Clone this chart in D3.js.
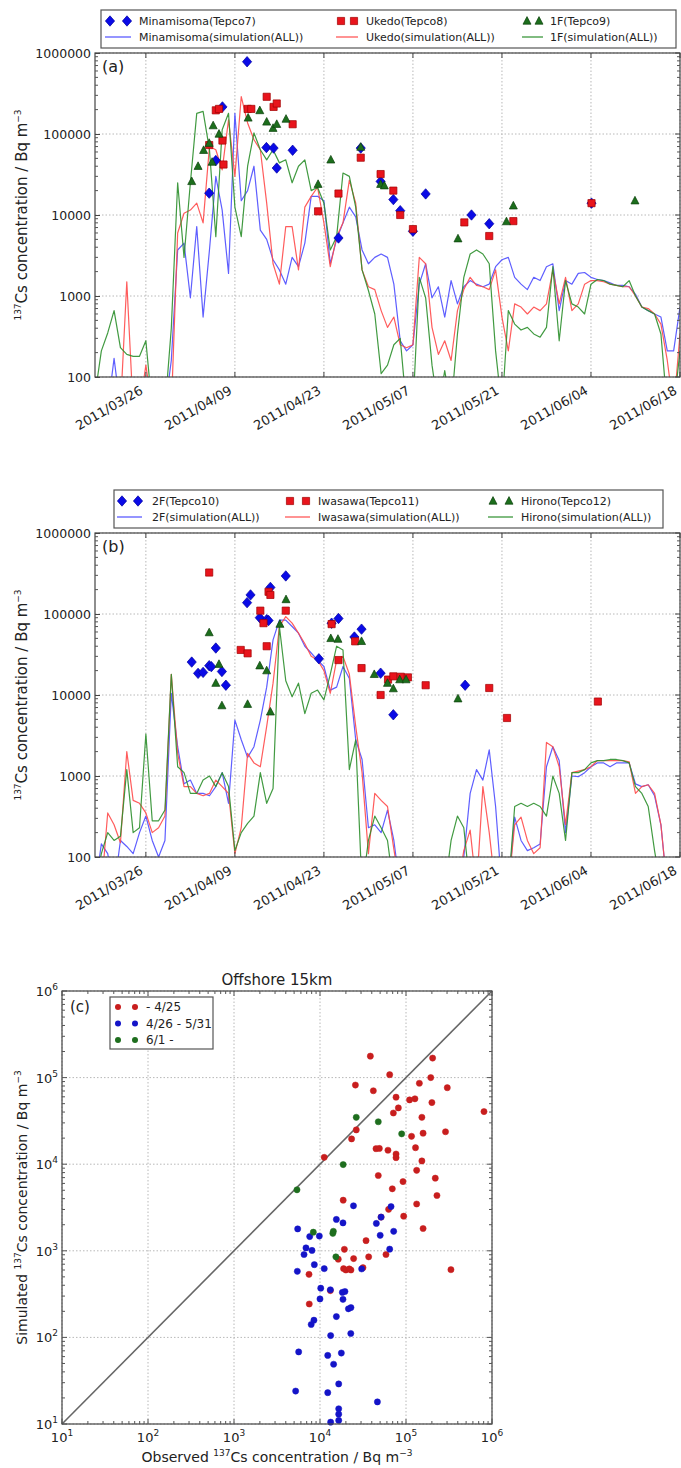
<!DOCTYPE html>
<html>
<head>
<meta charset="utf-8">
<script src="https://cdn.jsdelivr.net/npm/d3@7"></script>
<style>
  body { margin: 0; background: #fff; }
  svg { display: block; }
  text { font-family: "DejaVu Sans", sans-serif; fill: #222; }
</style>
</head>
<body>
<div id="chart"></div>
<script>
// ---- data ----
const simStart = "2011-03-18";          // first value of every simulation array, one value per day
const dateTicks = ["2011-03-26", "2011-04-09", "2011-04-23", "2011-05-07", "2011-05-21", "2011-06-04", "2011-06-18"];
const concTicks = [100, 1000, 10000, 100000, 1000000];
const logTicks = [10, 100, 1000, 10000, 100000, 1000000];

// panel (a)
const minamisomaSim = [40,40,40,170,40,40,40,40,40,40,
  40,40,160,3700,4500,950,7200,550,3700,30000,
  11500,1900,180000,15000,20000,40000,6500,5000,2800,2100,
  1400,3000,2300,4500,17000,17000,15000,2500,5000,8000,
  12500,9500,3700,2500,3000,3300,3000,1400,280,210,
  250,1400,2500,950,1300,550,1550,800,1300,1550,
  1400,1300,1400,2300,2800,3000,1700,1400,1200,1700,
  1550,2300,2500,660,1550,1400,1900,1950,1700,1600,
  1550,1450,1350,1350,1300,1050,730,660,600,550,
  210,210,730];
const ukedoSim = [40,40,40,40,40,1500,40,40,140,40,
  40,40,40,6000,10500,11500,14000,8000,70000,64000,
  36000,150000,30000,290000,137000,85000,64000,14000,2500,1400,
  7200,7200,2100,12500,17000,22000,8000,2300,5400,8000,
  27000,14000,2100,1300,1200,660,410,550,250,230,
  250,3000,2500,410,190,280,160,660,1200,1700,
  1350,1300,1200,2100,550,210,800,730,600,730,
  660,800,2100,800,1700,660,800,1400,1550,1550,
  1500,1400,1350,1300,1300,1000,730,700,600,450,
  160,40,340];
const f1Sim = [60,210,350,660,230,190,180,180,280,40,
  40,40,400,25000,3000,25000,180000,190000,64000,5400,
  113000,180000,12500,5400,40000,103000,64000,48000,64000,44000,
  48000,25000,40000,48000,20000,22000,14000,3700,5400,33000,
  30000,12500,2100,1170,600,110,140,250,300,40,
  40,1700,950,140,40,120,40,340,1700,3300,
  3700,3300,2500,210,40,660,450,380,410,340,
  310,410,2300,280,1550,800,730,600,1400,1600,
  1550,1400,1350,1300,1550,1000,730,660,600,340,
  40,40,210];

const minamisomaObsDates = ["2011-04-04 23","2011-04-06 00","2011-04-07 01","2011-04-10 22","2011-04-13 23","2011-04-15 02",
  "2011-04-15 14","2011-04-18 02","2011-04-25 07","2011-04-28 19","2011-05-01 22","2011-05-03 22",
  "2011-05-05 00","2011-05-07 00","2011-05-09 00","2011-05-16 05","2011-05-19 00","2011-06-04 02"];
const minamisomaObs = [18600,47000,216000,780000,68000,67000,38000,63000,5200,67000,26000,15500,11300,6300,18200,10000,7800,14000];

const ukedoObsDates = ["2011-04-04 23","2011-04-06 00","2011-04-06 12","2011-04-07 01","2011-04-07 05","2011-04-11 00",
  "2011-04-11 14","2011-04-14 00","2011-04-15 02","2011-04-15 14","2011-04-18 02","2011-04-22 02",
  "2011-04-25 07","2011-04-28 19","2011-05-01 22","2011-05-03 22","2011-05-05 00","2011-05-07 00",
  "2011-05-15 02","2011-05-19 00","2011-05-22 19","2011-06-04 02"];
const ukedoObs = [73000,196000,204000,83000,42000,204000,204000,288000,216000,238000,132000,11100,
  18400,51000,32000,20000,10000,6700,8100,5500,8400,14000];

const f1ObsDates = ["2011-04-02 05","2011-04-03 05","2011-04-04 02","2011-04-04 23","2011-04-05 10","2011-04-05 14",
  "2011-04-06 12","2011-04-11 02","2011-04-12 22","2011-04-14 00","2011-04-15 00","2011-04-15 14",
  "2011-04-17 01","2011-04-22 02","2011-04-24 02","2011-04-28 19","2011-05-01 22","2011-05-02 12",
  "2011-05-14 02","2011-05-21 17","2011-05-22 19","2011-06-10 22"];
const f1Obs = [26000,40000,63000,77000,45000,127000,100000,158000,195000,141000,118000,132000,
  153000,24000,48000,69000,24000,23000,5100,8300,13000,15000];

// panel (b)
const f2Sim = [40,145,110,40,160,135,110,200,320,160,
  100,160,10500,2300,800,890,610,610,570,740,
  1100,460,4900,2800,1700,2300,4900,12500,48000,84000,
  84000,70000,58000,40000,33000,27000,22500,11500,12500,22500,
  16000,2800,1600,230,250,200,380,160,40,40,
  40,40,40,40,40,40,40,40,100,610,
  1200,890,2100,420,40,40,310,160,120,130,
  145,1300,2300,1550,200,1000,980,1100,1300,1450,
  1450,1300,1450,1450,1450,800,740,780,570,250,
  40,40,40];
const iwasawaSim = [40,40,350,250,150,2000,500,460,350,200,
  230,320,18000,1900,740,740,610,570,610,890,
  740,610,110,230,1900,1450,1300,4100,14000,70000,
  93000,77000,58000,43000,30000,27000,20000,10500,27000,30000,
  18000,4100,1100,110,610,500,420,125,40,40,
  40,40,40,40,40,40,40,40,120,215,
  40,740,200,40,40,40,250,310,160,110,
  130,2600,2300,1300,250,1100,1150,1200,1300,1550,
  1550,1550,1550,1550,1500,610,740,780,610,250,
  40,40,40];
const hironoSim = [40,110,200,160,180,1200,200,230,3300,280,
  280,380,18000,1300,1100,610,610,890,1000,740,
  1100,740,120,200,260,320,1100,460,700,70000,
  15000,9500,14000,5900,10500,11500,8700,18000,40000,36000,
  1200,2800,40,160,320,230,160,40,40,40,
  40,40,40,40,40,40,160,320,230,40,
  40,40,40,40,40,40,420,460,420,460,
  420,320,1000,610,160,1100,1100,1200,1450,1550,
  1550,1600,1600,1550,1450,740,610,420,120,40,
  40,40,40];

const f2ObsDates = ["2011-04-02 05","2011-04-03 05","2011-04-04 00","2011-04-04 23","2011-04-05 07","2011-04-06 00",
  "2011-04-06 23","2011-04-07 14","2011-04-10 22","2011-04-11 11","2011-04-12 22","2011-04-14 00",
  "2011-04-14 07","2011-04-14 14","2011-04-17 00","2011-04-22 05","2011-04-24 05","2011-04-25 07",
  "2011-04-27 19","2011-04-28 22","2011-05-01 22","2011-05-03 22","2011-05-15 05"];
const f2Obs = [25500,18500,19000,23000,22400,38000,19500,13200,138000,172000,90000,85000,
  83000,213000,295000,28000,77000,88000,52000,65000,18600,5700,13200];

const iwasawaObsDates = ["2011-04-04 23","2011-04-09 22","2011-04-11 00","2011-04-13 00","2011-04-13 12","2011-04-14 00",
  "2011-04-14 07","2011-04-14 14","2011-04-17 00","2011-04-24 05","2011-04-25 07","2011-04-27 22",
  "2011-04-28 22","2011-05-01 22","2011-05-03 02","2011-05-03 22","2011-05-05 02","2011-05-06 05",
  "2011-05-09 00","2011-05-19 00","2011-05-21 19","2011-06-05 02"];
const iwasawaObs = [325000,36000,32700,110000,77000,40000,188000,172000,110000,75000,27000,46000,
  21500,10000,15500,17000,16800,16500,13200,12200,5200,8300];

const hironoObsDates = ["2011-04-04 23","2011-04-06 00","2011-04-06 12","2011-04-06 23","2011-04-11 00","2011-04-12 22",
  "2011-04-14 00","2011-04-14 14","2011-04-16 02","2011-04-17 01","2011-04-24 02","2011-04-25 05",
  "2011-04-28 22","2011-04-30 22","2011-05-03 00","2011-05-03 22","2011-05-04 22","2011-05-05 22","2011-05-14 02"];
const hironoObs = [59000,14000,24000,7400,7700,23000,20000,6200,75000,151000,50000,49000,
  46000,18000,14000,12000,15500,15500,9000];

// panel (c): observed vs simulated
const earlyObs = [38500,204000,64600,194000,25800,143000,302000,41700,76600,110000,127000,200000,81500,71300,153000,807000,
  26400,23300,116000,158000,288000,44800,49000,61700,76600,76600,129000,153000,11200,133000,47600,92300,219000,69300,229000,
  18600,133000,62800,51300,94000,158000,34300,19200,58500,16300,24600,36800,7450,18800,20000,21900,22900,31600,333000,13200,7500];
const earlySim = [177000,168000,108000,100000,82000,86000,76400,70500,59400,55300,56900,51500,44700,39000,34800,40500,
  24900,19600,21000,22800,23700,15100,15200,14500,13100,11900,15500,10900,12000,8500,7400,6300,6900,5200,4350,
  3840,3470,3010,2450,2510,1810,1310,1040,906,800,813,851,535,622,600,617,600,638,605,347,243];
const midObs = [24500,67000,51300,15500,18500,45200,5500,7590,9820,50100,71900,6870,8070,6520,64600,8590,5450,11200,30500,
  10200,13200,18200,19500,10000,18500,21400,22900,15500,8500,7900,13300,22800,5650,12300,17700,14400,16500,5210,12300,
  46500,16500,16500,16500,13300];
const midSim = [3310,3240,2450,2300,2100,2070,1790,1460,1480,1510,1680,1080,1010,906,1045,692,580,622,617,
  370,355,331,339,278,275,214,221,174,158,141,105,111,68,62,66,49,29,24,23,
  18,15,13,11,10.5];
const lateObs = [26400,47600,89100,18600,5400,8360,14300,14100,15300];
const lateSim = [34800,30900,22400,9900,5060,1640,1680,1590,851];

// ---- drawing ----
const W = 681, H = 1468;
const svg = d3.select("#chart").append("svg").attr("width", W).attr("height", H);
const parseDay = d3.timeParse("%Y-%m-%d");
const parseObs = d3.timeParse("%Y-%m-%d %H");
const GRID = "#b8b8b8";

const diamond = "M0,-5.2L4.6,0L0,5.2L-4.6,0Z";
const square = "M-3.6,-3.6H3.6V3.6H-3.6Z";
const triangle = "M0,-4.4L4,3.2H-4Z";

const BLUE = "#0a0ae6", RED = "#e8141c", GREEN = "#1c6e1c";
const BLUE_L = "#4d4dff", RED_L = "#ff4a4a", GREEN_L = "#2c8f2c";

function superLabel(g, x, y, rotate, parts, anchor) {
  // parts: [text, isSuper, size]
  const t = g.append("text")
    .attr("transform", `translate(${x},${y})` + (rotate ? " rotate(-90)" : ""))
    .attr("text-anchor", anchor || "middle");
  let up = false;
  parts.forEach(([s, sup, size]) => {
    const ts = t.append("tspan").text(s).style("font-size", size + "px");
    if (sup && !up) { ts.attr("dy", -6); up = true; }
    else if (!sup && up) { ts.attr("dy", 6); up = false; }
  });
  return t;
}

function markerPath(sel, d, fill, stroke) {
  return sel.append("path").attr("d", d).attr("fill", fill)
    .attr("stroke", stroke).attr("stroke-width", 0.7);
}

function timePanel(cfg) {
  const x = d3.scaleTime().domain([parseDay("2011-03-18"), parseDay("2011-06-18")]).range([95, 680]);
  const y = d3.scaleLog().domain([100, 1e6]).range([cfg.bottom, cfg.top]);
  const g = svg.append("g");
  const clipId = "clip" + cfg.name;
  svg.append("clipPath").attr("id", clipId).append("rect")
    .attr("x", 95).attr("y", cfg.top).attr("width", 585).attr("height", cfg.bottom - cfg.top);

  const ticks = dateTicks.map(parseDay);

  // grid
  g.append("g").selectAll("line").data(ticks).join("line")
    .attr("x1", d => x(d)).attr("x2", d => x(d)).attr("y1", cfg.top).attr("y2", cfg.bottom)
    .attr("stroke", GRID).attr("stroke-dasharray", "1.5,2");
  g.append("g").selectAll("line").data(concTicks).join("line")
    .attr("x1", 95).attr("x2", 680).attr("y1", d => y(d)).attr("y2", d => y(d))
    .attr("stroke", GRID).attr("stroke-dasharray", "1.5,2");

  // simulation lines
  const line = d3.line().x((d, i) => x(d3.timeDay.offset(parseDay(simStart), i))).y(d => y(d));
  const lines = g.append("g").attr("clip-path", `url(#${clipId})`);
  cfg.sims.forEach(s => {
    lines.append("path").datum(s.values).attr("d", line)
      .attr("fill", "none").attr("stroke", s.color).attr("stroke-width", 1.2)
      .attr("stroke-opacity", 0.9).attr("stroke-linejoin", "round");
  });

  // observations
  const marks = g.append("g").attr("clip-path", `url(#${clipId})`);
  cfg.obs.forEach(o => {
    marks.append("g").selectAll("path").data(o.values).join("path")
      .attr("transform", (d, i) => `translate(${x(parseObs(o.dates[i]))},${y(d)})`)
      .attr("d", o.shape).attr("fill", o.fill).attr("stroke", o.stroke).attr("stroke-width", 0.7);
  });

  // frame
  g.append("rect").attr("x", 95).attr("y", cfg.top).attr("width", 585).attr("height", cfg.bottom - cfg.top)
    .attr("fill", "none").attr("stroke", "#444").attr("stroke-width", 1.2);

  // y axis with inward ticks
  const yAxis = d3.axisLeft(y).tickValues(concTicks).tickFormat(d3.format("d"))
    .tickSizeInner(-5).tickSizeOuter(0).tickPadding(4);
  const ya = g.append("g").attr("transform", "translate(95,0)").call(yAxis);
  ya.select(".domain").remove();
  ya.selectAll("text").style("font-size", "12.5px").attr("fill", "#222");
  ya.selectAll("line").attr("stroke", "#444");
  // minor ticks both sides
  const minors = [];
  for (let e = 100; e < 1e6; e *= 10) for (let k = 2; k <= 9; k++) minors.push(e * k);
  g.append("g").selectAll("line").data(minors).join("line")
    .attr("x1", 95).attr("x2", 98).attr("y1", d => y(d)).attr("y2", d => y(d)).attr("stroke", "#555");
  g.append("g").selectAll("line").data(minors).join("line")
    .attr("x1", 677).attr("x2", 680).attr("y1", d => y(d)).attr("y2", d => y(d)).attr("stroke", "#555");
  g.append("g").selectAll("line").data(concTicks).join("line")
    .attr("x1", 675).attr("x2", 680).attr("y1", d => y(d)).attr("y2", d => y(d)).attr("stroke", "#444");

  // x ticks and rotated labels
  g.append("g").selectAll("line").data(ticks).join("line")
    .attr("x1", d => x(d)).attr("x2", d => x(d)).attr("y1", cfg.bottom).attr("y2", cfg.bottom - 5).attr("stroke", "#444");
  g.append("g").selectAll("line").data(ticks).join("line")
    .attr("x1", d => x(d)).attr("x2", d => x(d)).attr("y1", cfg.top).attr("y2", cfg.top + 5).attr("stroke", "#444");
  g.append("g").selectAll("text").data(ticks).join("text")
    .attr("transform", d => `translate(${x(d) - 2},${cfg.bottom + 16}) rotate(-30)`)
    .attr("text-anchor", "end").style("font-size", "13px")
    .text(d3.timeFormat("%Y/%m/%d"));

  // panel letter
  g.append("text").attr("x", 102).attr("y", cfg.top + 19).style("font-size", "16px").text(cfg.letter);

  // y label
  superLabel(g, 27, (cfg.top + cfg.bottom) / 2, true,
    [["137", true, 9], ["Cs concentration / Bq m", false, 15], ["\u22123", true, 9]]);

  // legend
  const L = cfg.legend;
  const lg = g.append("g");
  lg.append("rect").attr("x", L.x0).attr("y", L.y0).attr("width", L.x1 - L.x0).attr("height", L.y1 - L.y0)
    .attr("fill", "#fff").attr("stroke", "#555").attr("stroke-width", 1.2);
  L.cols.forEach((c, i) => {
    const o = cfg.obs[i], s = cfg.sims[i];
    [c.m1, c.m2].forEach(mx => {
      markerPath(lg, o.shape, o.fill, o.stroke).attr("transform", `translate(${mx},${L.row1})`);
    });
    lg.append("text").attr("x", c.tx).attr("y", L.row1 + 4).style("font-size", "11px").text(o.label);
    lg.append("line").attr("x1", c.m1 - 5).attr("x2", c.m2 + 4).attr("y1", L.row2).attr("y2", L.row2)
      .attr("stroke", s.color).attr("stroke-width", 1.2);
    lg.append("text").attr("x", c.tx).attr("y", L.row2 + 4).style("font-size", "11px").text(s.label);
  });
}

timePanel({
  name: "a", letter: "(a)", top: 53, bottom: 377,
  sims: [
    { values: minamisomaSim, color: BLUE_L, label: "Minamisoma(simulation(ALL))" },
    { values: ukedoSim, color: RED_L, label: "Ukedo(simulation(ALL))" },
    { values: f1Sim, color: GREEN_L, label: "1F(simulation(ALL))" }
  ],
  obs: [
    { dates: minamisomaObsDates, values: minamisomaObs, shape: diamond, fill: BLUE, stroke: "#0000a0", label: "Minamisoma(Tepco7)" },
    { dates: ukedoObsDates, values: ukedoObs, shape: square, fill: RED, stroke: "#a00000", label: "Ukedo(Tepco8)" },
    { dates: f1ObsDates, values: f1Obs, shape: triangle, fill: GREEN, stroke: "#0c400c", label: "1F(Tepco9)" }
  ],
  legend: { x0: 101, x1: 676, y0: 10, y1: 48, row1: 21, row2: 37,
    cols: [{ m1: 110, m2: 127, tx: 139 }, { m1: 341, m2: 354, tx: 366 }, { m1: 527, m2: 539, tx: 550 }] }
});

timePanel({
  name: "b", letter: "(b)", top: 533, bottom: 857,
  sims: [
    { values: f2Sim, color: BLUE_L, label: "2F(simulation(ALL))" },
    { values: iwasawaSim, color: RED_L, label: "Iwasawa(simulation(ALL))" },
    { values: hironoSim, color: GREEN_L, label: "Hirono(simulation(ALL))" }
  ],
  obs: [
    { dates: f2ObsDates, values: f2Obs, shape: diamond, fill: BLUE, stroke: "#0000a0", label: "2F(Tepco10)" },
    { dates: iwasawaObsDates, values: iwasawaObs, shape: square, fill: RED, stroke: "#a00000", label: "Iwasawa(Tepco11)" },
    { dates: hironoObsDates, values: hironoObs, shape: triangle, fill: GREEN, stroke: "#0c400c", label: "Hirono(Tepco12)" }
  ],
  legend: { x0: 114, x1: 663, y0: 490, y1: 528, row1: 501, row2: 517,
    cols: [{ m1: 122, m2: 138, tx: 152 }, { m1: 290, m2: 306, tx: 318 }, { m1: 493, m2: 509, tx: 521 }] }
});

// ---- panel (c) ----
(function () {
  const X0 = 62, X1 = 492, Y0 = 991, Y1 = 1424;
  const x = d3.scaleLog().domain([10, 1e6]).range([X0, X1]);
  const y = d3.scaleLog().domain([10, 1e6]).range([Y1, Y0]);
  const g = svg.append("g");

  g.append("g").selectAll("line").data(logTicks).join("line")
    .attr("x1", d => x(d)).attr("x2", d => x(d)).attr("y1", Y0).attr("y2", Y1)
    .attr("stroke", GRID).attr("stroke-dasharray", "1.5,2");
  g.append("g").selectAll("line").data(logTicks).join("line")
    .attr("x1", X0).attr("x2", X1).attr("y1", d => y(d)).attr("y2", d => y(d))
    .attr("stroke", GRID).attr("stroke-dasharray", "1.5,2");

  // 1:1 line
  g.append("line").attr("x1", x(10)).attr("y1", y(10)).attr("x2", x(1e6)).attr("y2", y(1e6))
    .attr("stroke", "#666").attr("stroke-width", 1.6);

  const groups = [
    { obs: earlyObs, sim: earlySim, color: "#c81e1e", label: " - 4/25" },
    { obs: midObs, sim: midSim, color: "#1414c8", label: "4/26 - 5/31" },
    { obs: lateObs, sim: lateSim, color: "#1e6e1e", label: "6/1 -" }
  ];
  groups.forEach(gr => {
    g.append("g").selectAll("circle").data(gr.obs).join("circle")
      .attr("cx", d => x(d)).attr("cy", (d, i) => y(gr.sim[i])).attr("r", 3.1)
      .attr("fill", gr.color).attr("stroke", gr.color).attr("stroke-opacity", 0.5);
  });

  g.append("rect").attr("x", X0).attr("y", Y0).attr("width", X1 - X0).attr("height", Y1 - Y0)
    .attr("fill", "none").attr("stroke", "#444").attr("stroke-width", 1.2);

  // ticks
  const minors = [];
  for (let e = 10; e < 1e6; e *= 10) for (let k = 2; k <= 9; k++) minors.push(e * k);
  const tk = g.append("g").attr("stroke", "#555");
  tk.selectAll(".mxb").data(minors).join("line").attr("x1", d => x(d)).attr("x2", d => x(d)).attr("y1", Y1).attr("y2", Y1 - 3);
  tk.selectAll(".mxt").data(minors).join("line").attr("x1", d => x(d)).attr("x2", d => x(d)).attr("y1", Y0).attr("y2", Y0 + 3);
  tk.selectAll(".myl").data(minors).join("line").attr("y1", d => y(d)).attr("y2", d => y(d)).attr("x1", X0).attr("x2", X0 + 3);
  tk.selectAll(".myr").data(minors).join("line").attr("y1", d => y(d)).attr("y2", d => y(d)).attr("x1", X1).attr("x2", X1 - 3);
  tk.selectAll(".Mxb").data(logTicks).join("line").attr("x1", d => x(d)).attr("x2", d => x(d)).attr("y1", Y1).attr("y2", Y1 - 5);
  tk.selectAll(".Mxt").data(logTicks).join("line").attr("x1", d => x(d)).attr("x2", d => x(d)).attr("y1", Y0).attr("y2", Y0 + 5);
  tk.selectAll(".Myl").data(logTicks).join("line").attr("y1", d => y(d)).attr("y2", d => y(d)).attr("x1", X0).attr("x2", X0 + 5);
  tk.selectAll(".Myr").data(logTicks).join("line").attr("y1", d => y(d)).attr("y2", d => y(d)).attr("x1", X1).attr("x2", X1 - 5);

  const expo = d => Math.round(Math.log10(d));
  logTicks.forEach(d => {
    const t = g.append("text").attr("x", X0 - 4).attr("y", y(d) + 5).attr("text-anchor", "end").style("font-size", "13px");
    t.append("tspan").text("10");
    t.append("tspan").text(expo(d)).attr("dy", -6).style("font-size", "9px");
    const b = g.append("text").attr("x", x(d)).attr("y", Y1 + 18).attr("text-anchor", "middle").style("font-size", "13px");
    b.append("tspan").text("10");
    b.append("tspan").text(expo(d)).attr("dy", -6).style("font-size", "9px");
  });

  g.append("text").attr("x", (X0 + X1) / 2).attr("y", Y0 - 6).attr("text-anchor", "middle")
    .style("font-size", "15px").text("Offshore 15km");
  g.append("text").attr("x", X0 + 8).attr("y", Y0 + 21).style("font-size", "15px").text("(c)");

  superLabel(g, (X0 + X1) / 2, Y1 + 38, false,
    [["Observed ", false, 14], ["137", true, 9], ["Cs concentration / Bq m", false, 14], ["\u22123", true, 9]]);
  superLabel(g, 27, (Y0 + Y1) / 2, true,
    [["Simulated ", false, 14], ["137", true, 9], ["Cs concentration / Bq m", false, 14], ["\u22123", true, 9]]);

  // legend
  const lg = g.append("g");
  lg.append("rect").attr("x", 110).attr("y", 997).attr("width", 103).attr("height", 52)
    .attr("fill", "#fff").attr("stroke", "#555").attr("stroke-width", 1.2);
  groups.forEach((gr, i) => {
    const yy = 1007 + i * 16.5;
    [118, 135].forEach(mx => lg.append("circle").attr("cx", mx).attr("cy", yy).attr("r", 3).attr("fill", gr.color));
    lg.append("text").attr("x", 146).attr("y", yy + 4).style("font-size", "12px").text(gr.label);
  });
})();
</script>
</body>
</html>
